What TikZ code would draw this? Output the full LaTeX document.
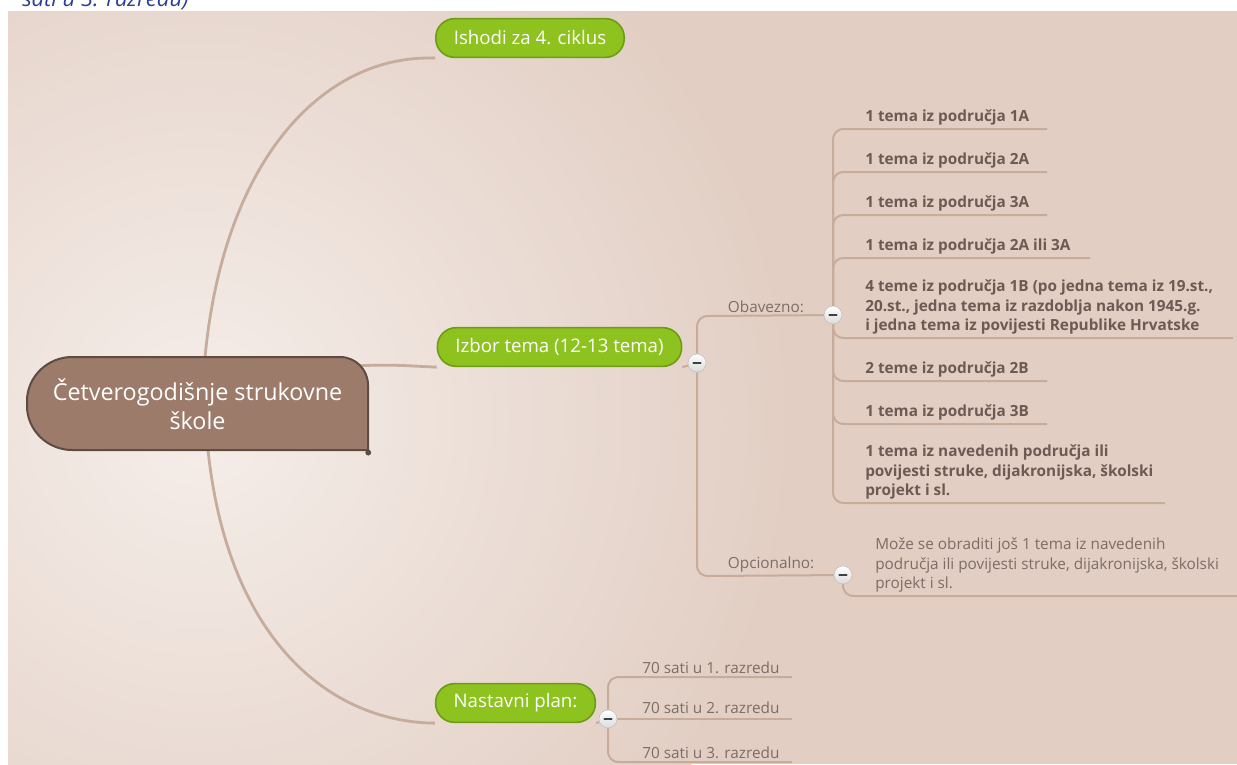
\documentclass[tikz,border=0pt]{standalone}
\usepackage{fontspec}
\setmainfont{Open Sans}
\usetikzlibrary{calc,positioning}
\pgfdeclarelayer{bg}
\pgfdeclarelayer{lines}
\pgfsetlayers{bg,lines,main}
\definecolor{bgbeige}{HTML}{E2CEC3}
\definecolor{bglight}{HTML}{F5EEEA}
\definecolor{twigcol}{HTML}{C7AB9B}
\definecolor{leaftext}{HTML}{6C5A53}
\definecolor{softtext}{HTML}{7D6D66}
\definecolor{topicfill}{HTML}{8DC21F}
\definecolor{topicdraw}{HTML}{6E9C14}
\definecolor{rootfill}{HTML}{9C7B6A}
\definecolor{rootdraw}{HTML}{5E4B41}
\definecolor{captionblue}{HTML}{2B3D96}
\tikzset{
	trunk/.style={draw=twigcol, line width=2.1pt},
	twig/.style={draw=twigcol, line width=1.5pt},
	topic/.style={draw=topicdraw, fill=topicfill, line width=1.2pt, rounded corners=14pt,
		minimum height=29pt, inner xsep=13.5pt, text=white, font=\fontsize{14}{16}\selectfont},
	leaf/.style={text=leaftext, font=\bfseries\fontsize{11.5}{14.6}\selectfont, align=left,
		inner xsep=0pt, inner ysep=2.5pt, anchor=south west},
	soft/.style={text=softtext, font=\fontsize{11.5}{14.6}\selectfont, align=left,
		inner xsep=0pt, inner ysep=2.5pt, anchor=south west},
	toggle/.style={circle, draw=gray!50, top color=white, bottom color=gray!28,
		minimum size=13.5pt, inner sep=0pt,
		path picture={\draw[gray!50!black, line width=1.4pt, line cap=round]
			([xshift=-2.8pt]path picture bounding box.center) -- ([xshift=2.8pt]path picture bounding box.center);}}
}
% branch from a toggle: up/down the stem, bend, run along the underline
\newcommand{\twig}[4]{
	\draw[twig] (#1) -- ($(#2)+(-12,#4)$) .. controls +(0,{-0.7*(#4)}) and +(-8,0) .. (#2) -- (#3);
}

\begin{document}
\begin{tikzpicture}[x=0.75pt,y=-0.75pt]
	\useasboundingbox (0,0) rectangle (1237,764);

	\begin{pgfonlayer}{bg}
	\fill[bgbeige] (8,11) rectangle (1237,764);
	\begin{scope}
	\clip (8,11) rectangle (1237,764);
	\shade[inner color=bglight, outer color=bgbeige] (200,420) circle (450pt);
	\end{scope}
	\end{pgfonlayer}

	\node[anchor=base west, inner sep=0pt, text=captionblue,
		font=\itshape\fontsize{16.5}{18}\selectfont] (caption) at (22,6) {sati u 3. razredu)};

	% central topic
	\filldraw[fill=rootfill, draw=rootdraw, line width=1.5pt]
		(72,357) -- (340,357) .. controls (355.5,357) and (368,369.5) .. (368,385)
		-- (368,450) -- (72,450) .. controls (47.7,450) and (27,430.3) .. (27,406)
		-- (27,401) .. controls (27,376.7) and (47.7,357) .. (72,357) -- cycle;
	\node[text=white, align=center, font=\fontsize{17.5}{22}\selectfont,
		minimum width=255.75pt, minimum height=69.75pt] (root) at (197.5,404.5)
		{Četverogodišnje strukovne\\škole};
	\fill[rootdraw] ([yshift=-1pt]root.south east) circle (2.2pt);

	\coordinate (rootN) at (205,357);
	\coordinate (rootE) at (355,366);
	\coordinate (rootS) at (208,450);

	\node[topic] (ishodi) at (530,38) {Ishodi za 4. ciklus};
	\node[topic] (izbor) at (559.5,347) {Izbor tema (12-13 tema)};
	\node[topic] (plan) at (515.5,703) {Nastavni plan:};

	\node[toggle] (bIzbor) at (697,363) {};
	\node[toggle] (bObv) at (833,315) {};
	\node[toggle] (bOpc) at (843,575) {};
	\node[toggle] (bPlan) at (608,719) {};

	% underline ends
	\coordinate (obvW) at (709,316);
	\coordinate (opcW) at (709,576);
	\coordinate (t1w) at (845,129); \coordinate (t1e) at (1047,129);
	\coordinate (t2w) at (845,172); \coordinate (t2e) at (1047,172);
	\coordinate (t3w) at (845,215); \coordinate (t3e) at (1047,215);
	\coordinate (t4w) at (845,258); \coordinate (t4e) at (1090,258);
	\coordinate (t5w) at (845,338); \coordinate (t5e) at (1233,338);
	\coordinate (t6w) at (845,381); \coordinate (t6e) at (1047,381);
	\coordinate (t7w) at (845,424); \coordinate (t7e) at (1047,424);
	\coordinate (t8w) at (845,503); \coordinate (t8e) at (1165,503);
	\coordinate (owW) at (855,596); \coordinate (owE) at (1237,596);
	\coordinate (s1w) at (620,677); \coordinate (s1e) at (792,677);
	\coordinate (s2e) at (792,719);
	\coordinate (s3w) at (620,762); \coordinate (s3e) at (792,762);

	\node[soft] (obv) at ([xshift=14pt]obvW) {Obavezno:};
	\node[soft] (opc) at ([xshift=14pt]opcW) {Opcionalno:};

	\node[leaf] (t1) at ([xshift=15pt]t1w) {1 tema iz područja 1A};
	\node[leaf] (t2) at ([xshift=15pt]t2w) {1 tema iz područja 2A};
	\node[leaf] (t3) at ([xshift=15pt]t3w) {1 tema iz područja 3A};
	\node[leaf] (t4) at ([xshift=15pt]t4w) {1 tema iz područja 2A ili 3A};
	\node[leaf] (t5) at ([xshift=15pt]t5w) {4 teme iz područja 1B (po jedna tema iz 19.st.,\\20.st., jedna tema iz razdoblja nakon 1945.g.\\i jedna tema iz povijesti Republike Hrvatske};
	\node[leaf] (t6) at ([xshift=15pt]t6w) {2 teme iz područja 2B};
	\node[leaf] (t7) at ([xshift=15pt]t7w) {1 tema iz područja 3B};
	\node[leaf] (t8) at ([xshift=15pt]t8w) {1 tema iz navedenih područja ili\\povijesti struke, dijakronijska, školski\\projekt i sl.};
	\node[soft] (ow) at ([xshift=15pt]owW) {Može se obraditi još 1 tema iz navedenih\\područja ili povijesti struke, dijakronijska, školski\\projekt i sl.};

	\node[soft] (s1) at ([xshift=16.5pt]s1w) {70 sati u 1. razredu};
	\node[soft] (s2) at (642,717) {70 sati u 2. razredu};
	\node[soft] (s3) at ([xshift=16.5pt]s3w) {70 sati u 3. razredu};

	\begin{pgfonlayer}{lines}
	\draw[trunk] (rootN) .. controls (225,150) and (330,54) .. (ishodi.south west);
	\draw[trunk] (rootE) .. controls (390,364) and (410,366) .. (izbor.south west);
	\draw[trunk] (rootS) .. controls (228,640) and (330,722) .. (plan.south west);
	\draw[twig] (izbor.south east) -- (bIzbor);
	\draw[twig] (plan.south east) -- (bPlan);

	\twig{bIzbor}{obvW}{bObv}{12}
	\twig{bIzbor}{opcW}{bOpc}{-12}

	\twig{bObv}{t1w}{t1e}{12}
	\twig{bObv}{t2w}{t2e}{12}
	\twig{bObv}{t3w}{t3e}{12}
	\twig{bObv}{t4w}{t4e}{12}
	\twig{bObv}{t5w}{t5e}{-12}
	\twig{bObv}{t6w}{t6e}{-12}
	\twig{bObv}{t7w}{t7e}{-12}
	\twig{bObv}{t8w}{t8e}{-12}
	\twig{bOpc}{owW}{owE}{-12}

	\twig{bPlan}{s1w}{s1e}{12}
	\draw[twig] (bPlan) -- (s2e);
	\twig{bPlan}{s3w}{s3e}{-12}
	\end{pgfonlayer}

\end{tikzpicture}
\end{document}
